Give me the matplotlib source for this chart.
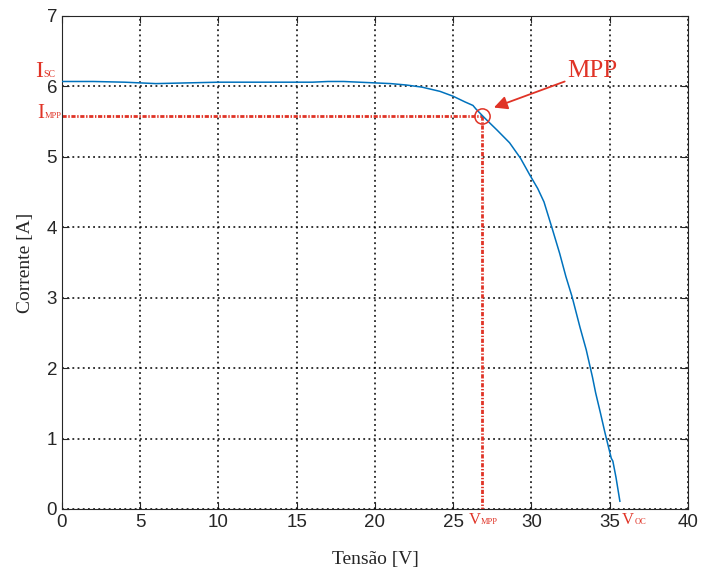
import matplotlib.pyplot as plt

# I-V curve of the panel
tensao = [0, 2, 4, 6, 8, 10, 12, 14, 16, 17, 18, 19, 20, 21, 22, 23, 24.15,
          25, 25.75, 26.26, 26.45, 26.84, 27.2, 27.8, 28.2, 28.6, 29.3, 29.9,
          30.4, 30.8, 31.3, 31.8, 32.2, 32.6, 33.1, 33.5, 33.9, 34.1, 34.4,
          34.7, 35.1, 35.2, 35.4, 35.65]
corrente = [6.07, 6.07, 6.06, 6.04, 6.05, 6.06, 6.06, 6.06, 6.06, 6.07, 6.07,
            6.06, 6.05, 6.04, 6.02, 5.99, 5.93, 5.86, 5.78, 5.73, 5.68, 5.59,
            5.51, 5.38, 5.29, 5.20, 4.98, 4.74, 4.55, 4.36, 4.00, 3.63, 3.30,
            3.01, 2.58, 2.26, 1.87, 1.65, 1.37, 1.08, 0.72, 0.68, 0.45, 0.11]

v_mpp = 26.84
i_mpp = 5.58

xticks = [0, 5, 10, 15, 20, 25, 30, 35, 40]
yticks = [0, 1, 2, 3, 4, 5, 6, 7]

red = '#e03326'
blue = '#0072BD'
serif = 'Liberation Serif'

plt.rcParams['font.family'] = 'Liberation Sans'

fig = plt.figure(figsize=(7.02, 5.71), dpi=100)
ax = fig.add_axes([0.0883, 0.1086, 0.8917, 0.8634])

ax.plot(tensao, corrente, color=blue, lw=1.1, zorder=3)

# MPP guide lines
dash = (0, (1.5, 0.6, 0.5, 0.6))
ax.plot([0, v_mpp], [i_mpp, i_mpp], color=red, ls=dash, lw=2, zorder=2)
ax.plot([v_mpp, v_mpp], [i_mpp, 0], color=red, ls=dash, lw=2, zorder=2)
ax.plot([v_mpp], [i_mpp], 'o', mfc='none', mec=red, ms=11, mew=1.1, zorder=4)

ax.annotate('MPP', xy=(27.6, 5.7), xytext=(32.3, 6.13), color=red,
            fontsize=18, family=serif, ha='left', va='baseline',
            arrowprops=dict(arrowstyle='-|>', color=red, lw=1.3,
                            mutation_scale=20, shrinkA=0, shrinkB=0))


def sub_label(x, y, big, small, bigsize, smallsize, align):
    if align == 'right':
        s = ax.text(x, y, small, color=red, fontsize=smallsize, family=serif,
                    ha='right', va='baseline', clip_on=False)
        ax.annotate(big, xy=(0, 0.25), xycoords=s, color=red, fontsize=bigsize,
                    family=serif, ha='right', va='baseline',
                    annotation_clip=False)
    else:
        b = ax.text(x, y, big, color=red, fontsize=bigsize, family=serif,
                    ha='left', va='baseline', clip_on=False)
        ax.annotate(small, xy=(1, 0.1), xycoords=b, color=red,
                    fontsize=smallsize, family=serif, ha='left',
                    va='bottom', annotation_clip=False)


sub_label(-0.45, 6.13, 'I', 'SC', 17, 7, 'right')
sub_label(-0.05, 5.55, 'I', 'MPP', 15, 6, 'right')
sub_label(26.0, -0.21, 'V', 'MPP', 12, 6, 'left')
sub_label(35.8, -0.21, 'V', 'OC', 12, 6, 'left')

ax.set_xlim(0, 40)
ax.set_ylim(0, 7)
ax.set_xticks(xticks)
ax.set_yticks(yticks)
ax.tick_params(direction='in', top=True, right=True, length=5,
               labelsize=13.5, colors='#262626', width=0.8)
ax.grid(True, color='black', ls=(0, (1.2, 2.2)), lw=1.1)
for sp in ax.spines.values():
    sp.set_color('#262626')
    sp.set_linewidth(0.8)

ax.set_xlabel('Tensão [V]', family=serif, fontsize=14, color='#262626')
ax.set_ylabel('Corrente [A]', family=serif, fontsize=14, color='#262626')
ax.xaxis.set_label_coords(0.5, -0.085)
ax.yaxis.set_label_coords(-0.045, 0.5)

fig.savefig('out.png', dpi=100)
